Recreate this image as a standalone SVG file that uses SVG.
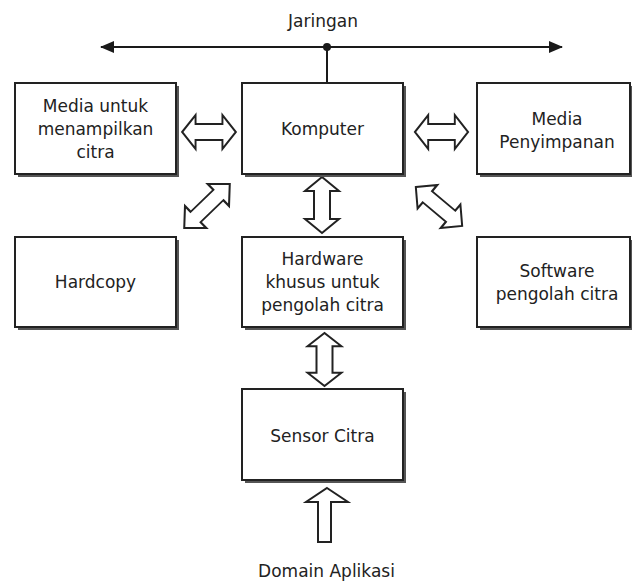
<svg xmlns="http://www.w3.org/2000/svg" width="632" height="582" viewBox="0 0 632 582">
  <style>
    .box { fill: #ffffff; stroke: #222222; stroke-width: 2; }
    .shadow { fill: #555555; }
    .lbl { font-family: "DejaVu Sans", Verdana, sans-serif; font-size: 17px; fill: #222222; text-anchor: middle; }
    .dbl { fill: #ffffff; stroke: #222222; stroke-width: 2; stroke-linejoin: miter; }
    .net { stroke: #1a1a1a; stroke-width: 2; fill: none; }
  </style>
  <defs>
    <marker id="netHead" viewBox="0 0 14 12" refX="13" refY="6" markerWidth="14" markerHeight="12" markerUnits="userSpaceOnUse" orient="auto-start-reverse">
      <path d="M0,0 L14,6 L0,12 Z" fill="#1a1a1a"/>
    </marker>
    <!-- double-headed hollow arrow, 56 long, centred on the origin -->
    <polygon id="dblArrow" points="-28,0 -14,-17 -14,-8 14,-8 14,-17 28,0 14,17 14,8 -14,8 -14,17"/>
  </defs>

  <rect width="632" height="582" fill="#ffffff"/>

  <!-- network bus -->
  <g id="jaringan">
    <text class="lbl" x="323" y="27">Jaringan</text>
  </g>

  <g id="connectors">
    <line class="net" x1="101" y1="47" x2="562" y2="47" marker-start="url(#netHead)" marker-end="url(#netHead)"/>
    <circle cx="327" cy="47" r="4" fill="#1a1a1a"/>
    <line class="net" x1="327" y1="47" x2="327" y2="83"/>

    <!-- display media <-> computer -->
    <use href="#dblArrow" class="dbl" transform="translate(209,132) scale(0.96,1)"/>
    <!-- computer <-> storage -->
    <use href="#dblArrow" class="dbl" transform="translate(441.5,132) scale(0.95,1)"/>
    <!-- computer <-> special hardware -->
    <use href="#dblArrow" class="dbl" transform="translate(322,205) rotate(90)"/>
    <!-- special hardware <-> sensor -->
    <use href="#dblArrow" class="dbl" transform="translate(324.5,359.5) rotate(90) scale(0.95,1)"/>
    <!-- computer <-> hardcopy -->
    <use href="#dblArrow" class="dbl" transform="translate(207,206) rotate(-44) scale(1.13,0.9)"/>
    <!-- computer <-> software -->
    <use href="#dblArrow" class="dbl" transform="translate(439,206.5) rotate(40) scale(1.08,0.9)"/>
    <!-- application domain -> sensor -->
    <polygon class="dbl" points="327,488 348,502 331,502 331,542 318,542 318,502 306,502"/>
  </g>

  <g id="media-tampil">
    <rect class="shadow" x="18" y="86" width="161" height="91"/>
    <rect class="box" x="15" y="83" width="161" height="91"/>
    <text class="lbl" x="95.5" y="112">Media untuk</text>
    <text class="lbl" x="95.5" y="135">menampilkan</text>
    <text class="lbl" x="95.5" y="158">citra</text>
  </g>

  <g id="komputer">
    <rect class="shadow" x="245" y="86" width="161" height="91"/>
    <rect class="box" x="242" y="83" width="161" height="91"/>
    <text class="lbl" x="322.5" y="135">Komputer</text>
  </g>

  <g id="media-simpan">
    <rect class="shadow" x="480" y="86" width="154" height="91"/>
    <rect class="box" x="477" y="83" width="153" height="91"/>
    <text class="lbl" x="557" y="125">Media</text>
    <text class="lbl" x="557" y="148">Penyimpanan</text>
  </g>

  <g id="hardcopy">
    <rect class="shadow" x="18" y="240" width="161" height="90"/>
    <rect class="box" x="15" y="237" width="161" height="90"/>
    <text class="lbl" x="95.5" y="288">Hardcopy</text>
  </g>

  <g id="hardware">
    <rect class="shadow" x="245" y="240" width="161" height="90"/>
    <rect class="box" x="242" y="237" width="161" height="90"/>
    <text class="lbl" x="322.5" y="265">Hardware</text>
    <text class="lbl" x="322.5" y="288">khusus untuk</text>
    <text class="lbl" x="322.5" y="311">pengolah citra</text>
  </g>

  <g id="software">
    <rect class="shadow" x="480" y="240" width="154" height="90"/>
    <rect class="box" x="477" y="237" width="153" height="90"/>
    <text class="lbl" x="557" y="277">Software</text>
    <text class="lbl" x="557" y="300">pengolah citra</text>
  </g>

  <g id="sensor">
    <rect class="shadow" x="245" y="392" width="161" height="91"/>
    <rect class="box" x="242" y="389" width="161" height="91"/>
    <text class="lbl" x="322.5" y="442">Sensor Citra</text>
  </g>

  <g id="domain">
    <text class="lbl" x="326.5" y="577">Domain Aplikasi</text>
  </g>
</svg>
